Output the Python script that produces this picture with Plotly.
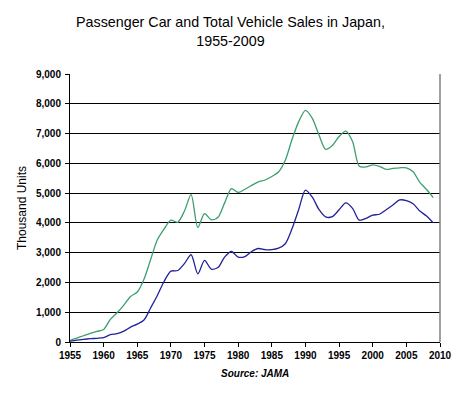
import plotly.graph_objects as go

years = list(range(1955, 2010))

total_vehicles = [55, 130, 210, 290, 355, 420, 760, 980, 1240, 1530,
                  1680, 2110, 2780, 3440, 3800, 4090, 4020, 4390, 4950, 3850,
                  4310, 4100, 4190, 4680, 5150, 5020, 5130, 5260, 5380, 5440,
                  5560, 5710, 6100, 6800, 7400, 7780, 7520, 6960, 6470, 6600,
                  6900, 7080, 6730, 5900, 5880, 5950, 5900, 5800, 5830, 5850,
                  5850, 5720, 5360, 5120, 4850]

passenger_cars = [30, 65, 90, 110, 125, 145, 245, 280, 365, 500,
                  600, 740, 1150, 1570, 2040, 2380, 2400, 2630, 2930, 2290,
                  2740, 2450, 2500, 2860, 3040, 2850, 2870, 3040, 3140, 3100,
                  3100, 3150, 3300, 3800, 4450, 5100, 4870, 4450, 4200, 4210,
                  4440, 4670, 4490, 4090, 4150, 4260, 4290, 4440, 4600, 4770,
                  4750, 4640, 4400, 4230, 4000]

x_ticks = list(range(1955, 2011, 5))
y_ticks = list(range(0, 9001, 1000))

font_family = "Liberation Sans, Arial, sans-serif"

fig = go.Figure()
fig.add_trace(go.Scatter(x=years, y=total_vehicles, mode="lines",
                         line=dict(color="#3d9e6e", width=1.3, shape="spline", smoothing=0.8),
                         name="Total Vehicles"))
fig.add_trace(go.Scatter(x=years, y=passenger_cars, mode="lines",
                         line=dict(color="#22229a", width=1.3, shape="spline", smoothing=0.8),
                         name="Passenger Cars"))

# page body has an 8px default margin, so the figure is sized to fit the window
fig.update_layout(
    width=457, height=385,
    margin=dict(l=62, r=25, t=66, b=51),
    paper_bgcolor="white", plot_bgcolor="white",
    showlegend=False,
    font=dict(family=font_family, color="black"),
    xaxis=dict(range=[1955, 2010], tickvals=x_ticks, ticks="outside", ticklen=4,
               tickcolor="black", showline=True, linecolor="black", linewidth=1,
               showgrid=False, zeroline=False,
               tickfont=dict(size=10, weight="bold")),
    yaxis=dict(range=[0, 9000], tickvals=y_ticks, tickformat=",", ticks="outside",
               ticklen=4, tickcolor="black", showline=True, linecolor="black",
               linewidth=1, showgrid=True, gridcolor="black", gridwidth=1,
               zeroline=False, tickfont=dict(size=10, weight="bold"),
               ticklabelstandoff=2,
               title=dict(text="Thousand Units", font=dict(size=12), standoff=6)),
    annotations=[
        dict(text="Passenger Car and Total Vehicle Sales in Japan,<br>1955-2009",
             xref="paper", yref="paper", x=0.435, y=1.16,
             xanchor="center", yanchor="middle", showarrow=False,
             font=dict(size=14.3, family=font_family, color="black")),
        dict(text="<i>Source: JAMA</i>", xref="paper", yref="paper",
             x=0.5, y=-0.116, xanchor="center", yanchor="middle",
             showarrow=False, font=dict(size=10, weight="bold")),
    ],
    shapes=[dict(type="line", xref="paper", yref="paper", x0=1, x1=1, y0=0, y1=1,
                 line=dict(color="#808080", width=1.5))],
)

fig.write_html("out.html")
